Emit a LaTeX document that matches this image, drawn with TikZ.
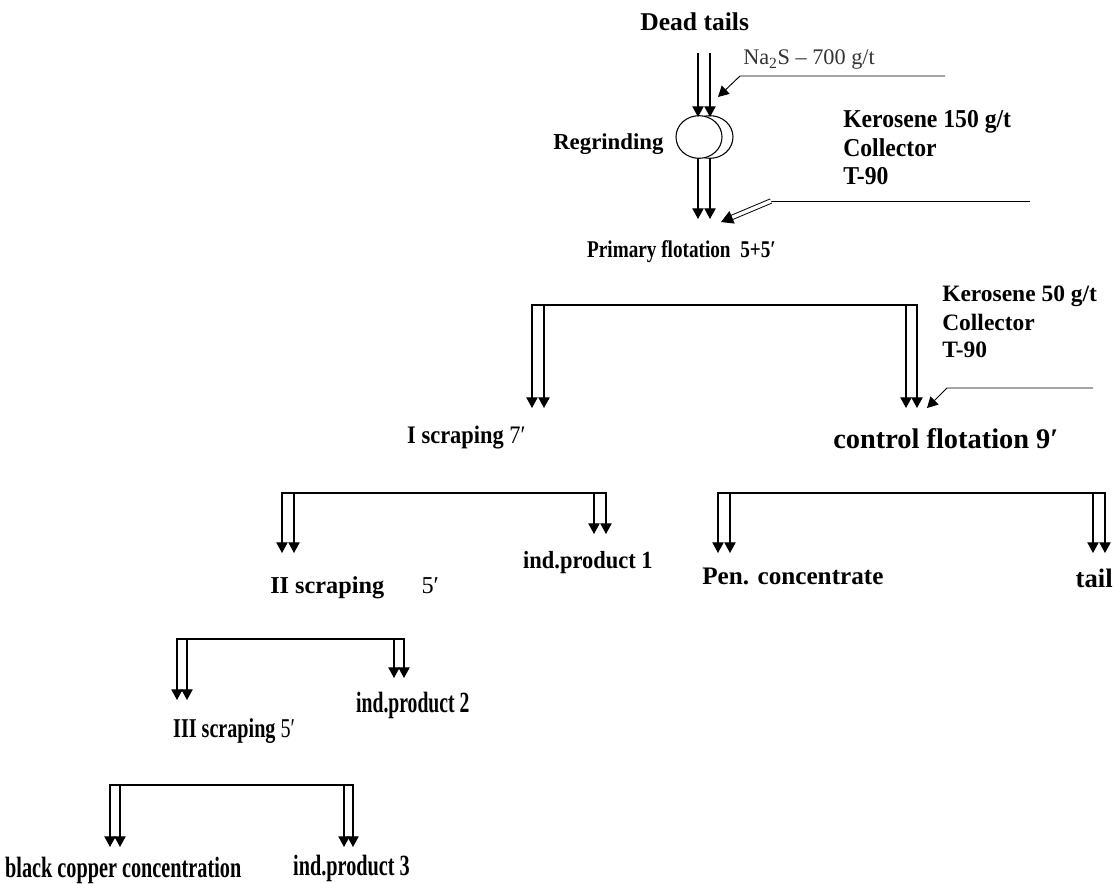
\documentclass[tikz,border=0pt]{standalone}
\usepackage{fontspec}
\setmainfont{Liberation Serif}
\usetikzlibrary{arrows.meta,shapes.geometric}
\begin{document}
\begin{tikzpicture}[x=0.75pt,y=-0.75pt,
  lbl/.style n args={2}{font=\fontsize{#1}{#1}\selectfont\bfseries, xscale=#2, inner sep=0pt, anchor=base west},
  flow/.style={line width=0.9pt, -{Triangle[length=8pt,width=8.5pt]}},
  dflow/.style={line width=0.9pt, {Triangle[length=8pt,width=8.5pt]}-{Triangle[length=8pt,width=8.5pt]}},
  ln/.style={line width=0.7pt},
  mill/.style={draw, ellipse, line width=0.8pt, minimum width=34.5pt, minimum height=32pt, inner sep=0pt}]
\useasboundingbox (0,0) rectangle (1114,884);

% ---- labels ----
\node[lbl={19.2}{1}] (dead) at (640,31) {Dead tails};
\node[lbl={17.1}{1}] (regr) at (553,150) {Regrinding};
\node[font=\fontsize{16.7}{18}\selectfont, text=black!80, anchor=base west, inner sep=0pt] (na2s) at (743,65) {Na\textsubscript{2}S – 700 g/t};
\node[lbl={19.3}{0.92}] (ker1a) at (843,128) {Kerosene 150 g/t};
\node[lbl={19.3}{0.92}] (ker1b) at (843,156.5) {Collector};
\node[lbl={19.3}{0.92}] (ker1c) at (843,185) {T-90};
\node[lbl={18}{0.8}] (prim) at (587,258) {Primary flotation\ \ 5+5′};
\node[lbl={17.6}{1}] (ker2a) at (942,302) {Kerosene 50 g/t};
\node[lbl={17.6}{1}] (ker2b) at (942,330) {Collector};
\node[lbl={17.6}{1}] (ker2c) at (942,358) {T-90};
\node[lbl={18.9}{0.89}] (scr1) at (407,443) {I scraping {\mdseries 7′}};
\node[lbl={21.3}{1}] (ctrl) at (833,448) {control flotation 9′};
\node[lbl={18.5}{0.91}] (ind1) at (523,568) {ind.product 1};
\node[lbl={18.2}{1}] (scr2) at (270,593) {II scraping\hspace{28pt}{\mdseries 5′}};
\node[lbl={18.9}{1}] (pen) at (702,584) {Pen. concentrate};
\node[lbl={20}{1}, anchor=base east] (tail) at (1113,587) {tail};
\node[lbl={22}{0.67}] (ind2) at (356,712) {ind.product 2};
\node[lbl={20.4}{0.74}] (scr3) at (173,737) {III scraping {\mdseries 5′}};
\node[lbl={22}{0.69}] (bcc) at (5,877) {black copper concentration};
\node[lbl={22}{0.69}] (ind3) at (293,875) {ind.product 3};

% ---- regrinding mill ----
\node[mill] (mill2) at (710,137) {};
\node[mill, fill=white] (mill1) at (699,137) {};

% ---- top feed ----
\coordinate (f1) at (698,53);  \coordinate (f2) at (710,53);
\coordinate (m1) at (698,117); \coordinate (m2) at (710,117);
\draw[flow] (f1) -- (m1);
\draw[flow] (f2) -- (m2);
\coordinate (g1) at (698,158); \coordinate (g2) at (710,158);
\coordinate (p1) at (698,219); \coordinate (p2) at (710,219);
\draw[flow] (g1) -- (p1);
\draw[flow] (g2) -- (p2);

% ---- reagents ----
\coordinate (naR) at (945,76); \coordinate (naK) at (740,76); \coordinate (naT) at (718,97);
\draw[flow, ln] (naR) -- (naK) -- (naT);
\coordinate (k1R) at (1030,201); \coordinate (k1K) at (771,201); \coordinate (k1T) at (721,222);
\draw[ln] (k1R) -- (k1K);
\draw[double, double distance=2.6pt, line width=0.7pt, -{Triangle[length=9pt,width=10pt]}] (k1K) -- (k1T);
\coordinate (k2R) at (1093,388); \coordinate (k2K) at (947,388); \coordinate (k2T) at (927,408);
\draw[flow, ln] (k2R) -- (k2K) -- (k2T);

% ---- branch 1: primary flotation ----
\draw[dflow] (532,408) -- (532,305) -- (917,305) -- (917,408);
\draw[flow] (544,305) -- (544,408);
\draw[flow] (906,305) -- (906,408);

% ---- branch 2: I scraping ----
\draw[dflow] (282,553) -- (282,493) -- (606,493) -- (606,534);
\draw[flow] (294,493) -- (294,553);
\draw[flow] (594,493) -- (594,534);

% ---- branch 3: control flotation ----
\draw[dflow] (718,553) -- (718,493) -- (1105,493) -- (1105,553);
\draw[flow] (730,493) -- (730,553);
\draw[flow] (1093,493) -- (1093,553);

% ---- branch 4: II scraping ----
\draw[dflow] (177,700) -- (177,639) -- (404,639) -- (404,678);
\draw[flow] (187,639) -- (187,700);
\draw[flow] (394,639) -- (394,678);

% ---- branch 5: III scraping ----
\draw[dflow] (110,847) -- (110,785) -- (353,785) -- (353,847);
\draw[flow] (120,785) -- (120,847);
\draw[flow] (344,785) -- (344,847);
\end{tikzpicture}
\end{document}
